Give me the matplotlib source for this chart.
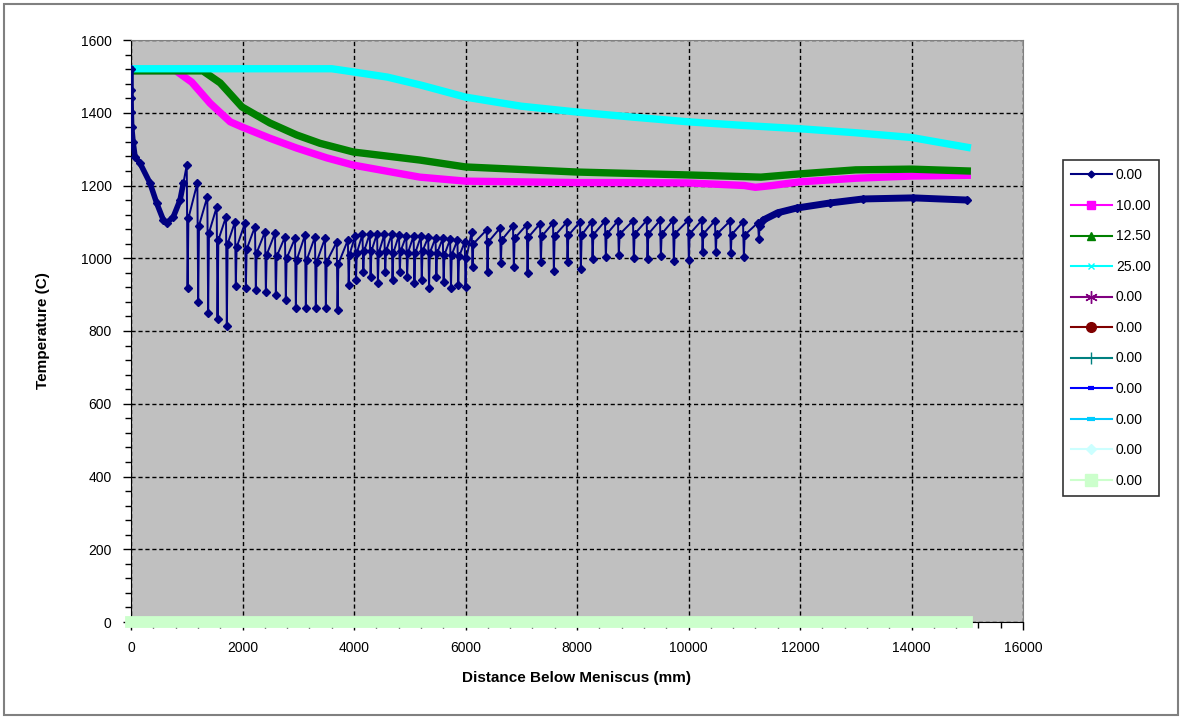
import matplotlib
matplotlib.use("Agg")
import matplotlib.pyplot as plt
from matplotlib.lines import Line2D
from matplotlib.patches import Rectangle
from matplotlib.ticker import MultipleLocator

plt.rcParams["font.family"] = ["Liberation Sans", "DejaVu Sans"]

# --- 0.00 series (surface temperature), smooth start below meniscus
head_x = [0, 0, 0, 5, 12, 37, 72, 160, 340, 460, 580, 640, 760, 880, 940]
head_t = [1520, 1462, 1440, 1402, 1361, 1320, 1279, 1262, 1207, 1152, 1105, 1097, 1114, 1160, 1207]

# roll contacts: position, temperature before contact, minimum, recovered
roll_x = [1000, 1190, 1369, 1537, 1704, 1865, 2045, 2224, 2404, 2583, 2762, 2942, 3121, 3300, 3480, 3690,
          3890, 4021, 4152, 4283, 4414, 4545, 4676, 4807, 4938, 5069, 5200, 5331, 5462, 5593, 5724, 5855, 5986,
          6111, 6380, 6619, 6852, 7098, 7337, 7570, 7815, 8054, 8264, 8502, 8735, 9004, 9250, 9489, 9722,
          9991, 10237, 10475, 10744, 10978, 11247]
roll_peak = [1256, 1207, 1169, 1141, 1114, 1100, 1097, 1087, 1073, 1069, 1059, 1055, 1064, 1059, 1055, 1045,
             1050, 1062, 1066, 1068, 1068, 1066, 1066, 1064, 1062, 1062, 1060, 1058, 1056, 1055, 1052, 1050, 1045,
             1073, 1078, 1083, 1088, 1092, 1095, 1097, 1099, 1100, 1101, 1102, 1103, 1103, 1104, 1104, 1104,
             1104, 1104, 1103, 1102, 1100, 1098]
roll_low = [917, 880, 850, 832, 815, 924, 918, 912, 906, 898, 885, 863, 863, 863, 863, 858,
            926, 940, 963, 949, 931, 963, 940, 963, 949, 931, 940, 918, 949, 935, 918, 926, 921,
            977, 963, 987, 976, 960, 990, 966, 990, 970, 998, 1003, 1009, 1001, 998, 1006, 993,
            995, 1018, 1018, 1015, 1003, 1053]
roll_rec = [1110, 1090, 1070, 1050, 1040, 1030, 1025, 1015, 1010, 1005, 1000, 995, 995, 990, 990, 985,
            1010, 1015, 1020, 1020, 1015, 1020, 1015, 1020, 1015, 1015, 1020, 1015, 1015, 1010, 1010, 1005, 1000,
            1040, 1045, 1050, 1055, 1058, 1060, 1062, 1063, 1064, 1065, 1066, 1066, 1067, 1067, 1067, 1067,
            1067, 1067, 1066, 1065, 1064, 1090]

tail_x = [11340, 11600, 11940, 12540, 13130, 14030, 15000]
tail_t = [1105, 1125, 1138, 1152, 1163, 1166, 1160]

# --- other cases
mag_x = [0, 800, 1090, 1420, 1780, 1990, 2490, 2970, 3510, 3990, 5180, 6000, 7000, 8000, 9000, 10000,
         11000, 11200, 11500, 12000, 13000, 14000, 15000]
mag_t = [1516, 1516, 1484, 1426, 1375, 1361, 1330, 1303, 1276, 1256, 1223, 1212, 1210, 1208, 1208, 1207,
         1200, 1195, 1200, 1210, 1220, 1226, 1228]

grn_x = [0, 1290, 1600, 1990, 2490, 2970, 3390, 3990, 5180, 6000, 8000, 10000, 11300, 12000, 13000, 14000, 15000]
grn_t = [1515, 1515, 1482, 1416, 1372, 1339, 1316, 1292, 1270, 1251, 1237, 1229, 1223, 1232, 1243, 1245, 1240]

cyn_x = [0, 3600, 4000, 4600, 5200, 6000, 7000, 8000, 9000, 10000, 11000, 12000, 13000, 14000, 15000]
cyn_t = [1521, 1521, 1512, 1498, 1476, 1443, 1418, 1402, 1388, 1375, 1365, 1356, 1345, 1332, 1305]

zero_x = [0, 15000]
zero_t = [0, 0]

labels = ["0.00", "10.00", "12.50", "25.00", "0.00", "0.00", "0.00", "0.00", "0.00", "0.00", "0.00"]

# build the 0.00 series
blue_x, blue_t = list(head_x), list(head_t)
for x, p, lo, r in zip(roll_x, roll_peak, roll_low, roll_rec):
    blue_x += [x, x + 15, x + 30]
    blue_t += [p, lo, r]
blue_x += tail_x
blue_t += tail_t

fig = plt.figure(figsize=(11.82, 7.19), dpi=100)
ax = fig.add_axes([131 / 1182, 1 - 622 / 719, 892 / 1182, 582 / 719])
ax.set_facecolor("#C0C0C0")

# hidden zero series
for c in ["#800080", "#800000", "#008080", "#0000FF", "#00CCFF", "#CCFFFF"]:
    ax.plot(zero_x, zero_t, color=c, lw=2, zorder=2, clip_on=False)
ax.plot(zero_x, zero_t, color="#CCFFCC", lw=8.5, solid_capstyle="projecting", zorder=3, clip_on=False)

ax.plot(mag_x, mag_t, color="#FF00FF", lw=5.3, zorder=4)
ax.plot(grn_x, grn_t, color="#008000", lw=5.3, zorder=4)
ax.plot(cyn_x, cyn_t, color="#00FFFF", lw=5.3, zorder=4)

ax.plot(blue_x, blue_t, color="#000080", lw=1.4, marker="D", ms=4.3, zorder=5)
ax.plot(head_x, head_t, color="#000080", lw=4, zorder=5)
ax.plot([roll_x[-1] + 30] + tail_x, [roll_rec[-1]] + tail_t, color="#000080", lw=5,
        solid_capstyle="round", zorder=5)

ax.set_xlim(0, 16000)
ax.set_ylim(0, 1600)
ax.xaxis.set_major_locator(MultipleLocator(2000))
ax.xaxis.set_minor_locator(MultipleLocator(400))
ax.yaxis.set_major_locator(MultipleLocator(200))
ax.yaxis.set_minor_locator(MultipleLocator(40))
ax.grid(True, which="major", color="black", ls=(0, (3, 2)), lw=1)
ax.set_axisbelow(True)
ax.tick_params(which="major", direction="out", length=6, width=1, labelsize=10, pad=8)
ax.tick_params(which="minor", direction="out", length=4, width=1)
for s in ["top", "right"]:
    ax.spines[s].set_color("#808080")
for s in ["left", "bottom"]:
    ax.spines[s].set_color("black")

ax.set_xlabel("Distance Below Meniscus (mm)", fontsize=11, fontweight="bold", labelpad=11)
ax.set_ylabel("Temperature (C)", fontsize=11, fontweight="bold", labelpad=22)

handles = [
    Line2D([], [], color="#000080", marker="D", ms=3.5),
    Line2D([], [], color="#FF00FF", marker="s", ms=6),
    Line2D([], [], color="#008000", marker="^", ms=6),
    Line2D([], [], color="#00FFFF", marker="x", ms=5),
    Line2D([], [], color="#800080", marker=(6, 2, 0), ms=9),
    Line2D([], [], color="#800000", marker="o", ms=7),
    Line2D([], [], color="#008080", marker="|", ms=9),
    Line2D([], [], color="#0000FF", marker="_", ms=5, mew=3),
    Line2D([], [], color="#00CCFF", marker="_", ms=6, mew=3),
    Line2D([], [], color="#CCFFFF", marker="D", ms=5),
    Line2D([], [], color="#CCFFCC", marker="s", ms=8),
]
leg = fig.legend(handles, labels, loc="upper left", bbox_to_anchor=(1063 / 1182, 1 - 160 / 719),
                 bbox_transform=fig.transFigure, borderaxespad=0, frameon=True, fancybox=False,
                 edgecolor="black", fontsize=10, handlelength=2.9, labelspacing=1.19,
                 handletextpad=0.3, borderpad=0.6)
leg.get_frame().set_linewidth(1.2)

fig.patches.append(Rectangle((4 / 1182, 4 / 719), 1174 / 1182, 711 / 719, transform=fig.transFigure,
                             fill=False, edgecolor="#808080", lw=1.5))

plt.savefig("out.png", dpi=100)
